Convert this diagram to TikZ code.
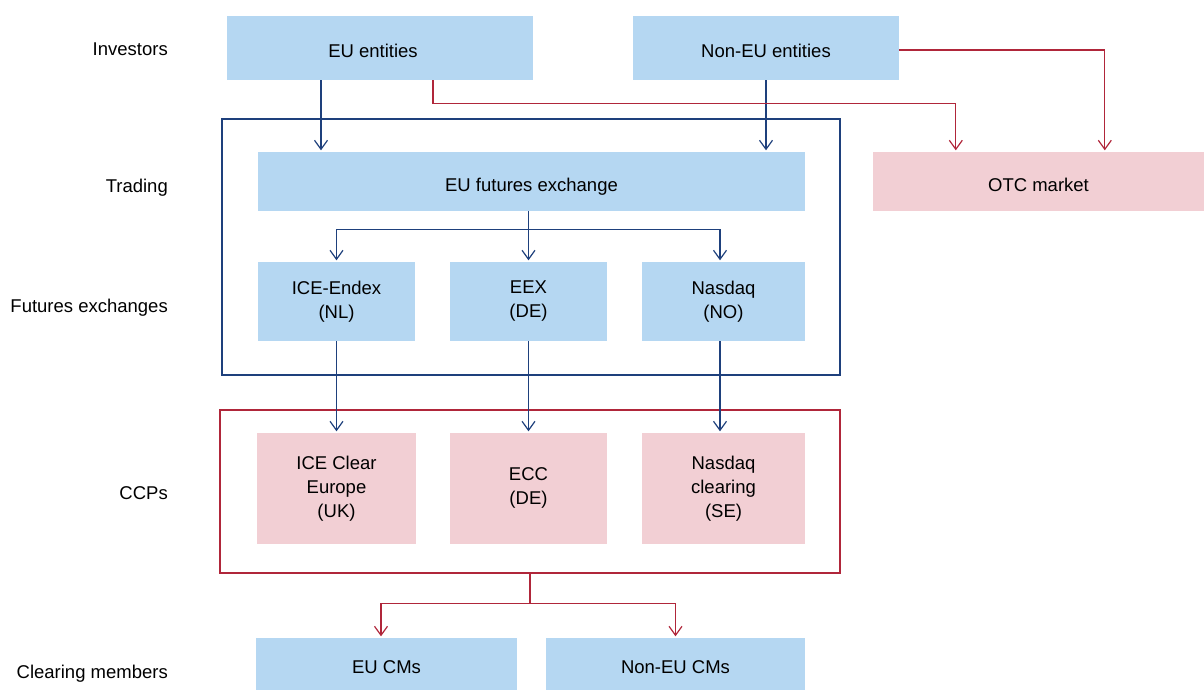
\documentclass[tikz,border=0pt]{standalone}
\usepackage{fontspec}
\setmainfont{Liberation Sans}
\usetikzlibrary{arrows.meta,calc}
\definecolor{lblue}{RGB}{181,215,242}
\definecolor{lpink}{RGB}{242,207,212}
\definecolor{dblue}{RGB}{30,64,124}
\definecolor{dred}{RGB}{176,38,58}
\begin{document}
\begin{tikzpicture}[x=1pt,y=-1pt,
  font=\fontsize{18.5}{24}\selectfont,
  boxtext/.style={inner sep=0pt, align=center,
    execute at begin node={\rule{0pt}{23.3pt}},
    execute at end node={\rule[-4pt]{0pt}{4pt}}},
  bbox/.style={fill=lblue, boxtext},
  pbox/.style={fill=lpink, boxtext},
  barr/.style={draw=dblue, line width=1.25pt, shorten >=1.5pt, -{Straight Barb[length=9pt,width=13pt,line width=1.2pt]}},
  rarr/.style={draw=dred, line width=1.25pt, shorten >=1.5pt, -{Straight Barb[length=9pt,width=13pt,line width=1.2pt]}},
  lab/.style={anchor=base east, inner sep=0pt}]
\useasboundingbox (0,0) rectangle (1204,690);

% outer frames
\node[draw=dblue, line width=1.2pt, minimum width=618pt, minimum height=256pt, inner sep=0pt] (trade) at (531,247) {};
\node[draw=dred, line width=1.2pt, minimum width=620pt, minimum height=163pt, inner sep=0pt] (ccp) at (530,491.5) {};

% row labels (baselines)
\node[lab] (l1) at (168,55.5) {Investors};
\node[lab] (l2) at (168,192) {Trading};
\node[lab] (l3) at (168,312) {Futures exchanges};
\node[lab] (l4) at (168,499) {CCPs};
\node[lab] (l5) at (168,678) {Clearing members};

% investors
\node[bbox, minimum width=306pt, minimum height=64pt] (eu) at (380,48) {\kern-7pt EU entities\kern7pt};
\node[bbox, minimum width=266pt, minimum height=64pt] (neu) at (766,48) {Non-EU entities};
\node[pbox, minimum width=331pt, minimum height=59pt] (otc) at (1038.5,181.5) {OTC market};

% trading
\node[bbox, minimum width=547pt, minimum height=59pt] (fut) at (531.5,181.5) {EU futures exchange};

% exchanges
\node[bbox, minimum width=157pt, minimum height=79pt] (ice) at (336.5,301.5) {ICE-Endex\\(NL)};
\node[bbox, minimum width=157pt, minimum height=79pt] (eex) at (528.5,301.5) {EEX\\(DE)};
\node[bbox, minimum width=163pt, minimum height=79pt] (nas) at (723.5,301.5) {Nasdaq\\(NO)};

% CCPs
\node[pbox, minimum width=159pt, minimum height=111pt] (icec) at (336.5,488.5) {ICE Clear\\Europe\\(UK)};
\node[pbox, minimum width=157pt, minimum height=111pt] (ecc) at (528.5,488.5) {ECC\\(DE)};
\node[pbox, minimum width=163pt, minimum height=111pt] (nasc) at (723.5,488.5) {Nasdaq\\clearing\\(SE)};

% clearing members
\node[bbox, minimum width=261pt, minimum height=52pt] (eucm) at (386.5,664) {EU CMs};
\node[bbox, minimum width=259pt, minimum height=52pt] (neucm) at (675.5,664) {Non-EU CMs};

% connectors: investors
\coordinate (a1) at ($(eu.south)+(-59,0)$);
\draw[barr] (a1) -- (a1 |- fut.north);
\draw[barr] (neu.south) -- (neu.south |- fut.north);
\coordinate (r1) at ($(eu.south)+(53,0)$);
\coordinate (o1) at ($(otc.north west)+(83,0)$);
\coordinate (o2) at ($(otc.north west)+(232,0)$);
\draw[rarr] (r1) -- ++(0,23) -| (o1);
\draw[rarr] ($(neu.east)+(0,2)$) -| (o2);

% fan from exchange
\coordinate (f0) at (fut.south -| eex.north);
\coordinate (n1) at ($(nas.north)+(-3.5,0)$);
\draw[barr] (f0) -- (eex.north);
\draw[barr] (f0) -- ++(0,18) -| (ice.north);
\draw[barr] (f0) -- ++(0,18) -| (n1);

% exchanges to CCPs
\draw[barr] (ice.south) -- (icec.north);
\draw[barr] (eex.south) -- (ecc.north);
\draw[barr] (n1 |- nas.south) -- (n1 |- nasc.north);

% CCPs to clearing members
\coordinate (c1) at ($(eucm.north)+(-5.5,0)$);
\draw[rarr] (ccp.south) -- ++(0,30) -| (c1);
\draw[rarr] (ccp.south) -- ++(0,30) -| (neucm.north);
\end{tikzpicture}
\end{document}
